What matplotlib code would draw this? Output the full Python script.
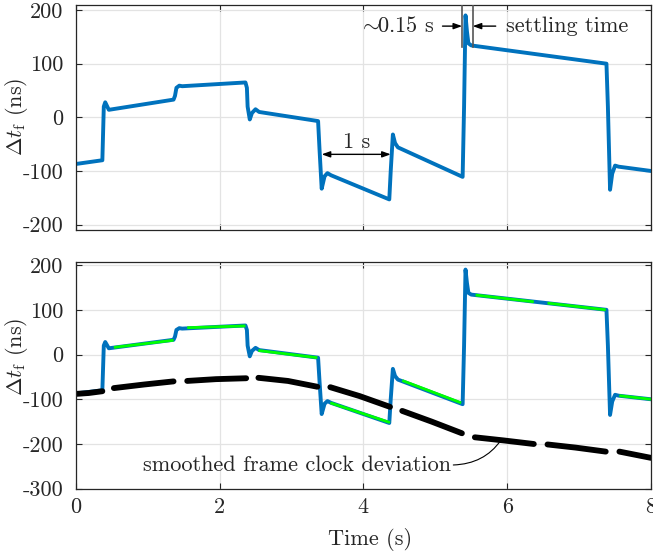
import numpy as np
import matplotlib
matplotlib.use("Agg")
import matplotlib.pyplot as plt

plt.rcParams['font.family'] = 'cmr10'
plt.rcParams['mathtext.fontset'] = 'cm'
plt.rcParams['axes.unicode_minus'] = False
plt.rcParams['axes.formatter.use_mathtext'] = False

# ---- data ----
blue_t = [0.00, 0.37, 0.39, 0.41, 0.46, 1.36, 1.38, 1.40, 1.44, 1.48, 2.36, 2.38, 2.39, 2.42,
          2.45, 2.50, 2.55, 3.37, 3.39, 3.42, 3.46, 3.50, 3.55, 4.36, 4.38, 4.41, 4.44,
          4.48, 5.38, 5.40, 5.42, 5.44, 5.46, 5.50, 7.38, 7.40, 7.43, 7.46, 7.50, 7.55, 8.00]
blue_v = [-87, -80, 20, 28, 14, 33, 40, 55, 59, 58, 65, 55, 20, -4,
          8, 15, 10, -7, -60, -133, -110, -104, -108, -153, -100, -32, -48,
          -56, -111, 20, 190, 160, 138, 134, 100, 20, -135, -105, -90, -92, -100]

green_t0 = [0.53, 1.55, 2.54, 3.54, 4.54, 5.56, 6.56, 7.56]
green_v0 = [16, 60, 9, -108, -58, 133, 115, -92]
green_t1 = [1.36, 2.36, 3.36, 4.37, 5.36, 6.37, 7.37, 8.00]
green_v1 = [32, 64, -7, -152, -108, 118, 100, -100]

black_t = [[0.00, 0.18, 0.37], [0.53, 0.95, 1.36], [1.55, 1.95, 2.37], [2.54, 2.95, 3.36],
           [3.54, 3.95, 4.37], [4.54, 4.95, 5.37], [5.55, 5.95, 6.37], [6.56, 6.95, 7.37],
           [7.56, 7.78, 8.00]]
black_v = [[-88, -86, -82], [-75, -67, -60], [-59, -55, -53], [-52, -59, -72],
           [-73, -93, -117], [-126, -150, -176], [-185, -192, -200], [-201, -208, -217],
           [-217, -224, -231]]

xticks = [0, 2, 4, 6, 8]
yticks_top = [-200, -100, 0, 100, 200]
yticks_bot = [-300, -200, -100, 0, 100, 200]

BLUE = '#0072BD'
GREEN = '#00FF00'
FS = 16
TXT = '#262626'

fig = plt.figure(figsize=(6.53, 5.55), dpi=100)
ax1 = fig.add_axes([0.116, 0.5856, 0.881, 0.406])
ax2 = fig.add_axes([0.116, 0.1194, 0.881, 0.4086])

for ax in (ax1, ax2):
    ax.grid(True, color='#e3e3e3', lw=0.9)
    ax.set_axisbelow(True)
    ax.tick_params(direction='in', length=4.5, width=0.8, top=True, right=True,
                   labelsize=FS, colors=TXT)
    ax.tick_params(axis='y', pad=9)
    ax.tick_params(axis='x', pad=6)
    for s in ax.spines.values():
        s.set_color(TXT)
        s.set_linewidth(0.9)
    ax.set_xlim(0, 8)
    ax.set_xticks(xticks)
    ax.set_ylabel(r'$\Delta t_\mathrm{f}$ (ns)', fontsize=FS, color=TXT)

ax1.yaxis.set_label_coords(-0.079, 0.5)
ax2.yaxis.set_label_coords(-0.079, 0.58)

# top panel
ax1.plot(blue_t, blue_v, color=BLUE, lw=2.8, solid_joinstyle='round')
ax1.set_ylim(-210, 210)
ax1.set_yticks(yticks_top)
ax1.tick_params(labelbottom=False)

# 1 s arrow
ax1.annotate('', xy=(3.42, -69), xytext=(4.38, -69),
             arrowprops=dict(arrowstyle='<|-|>,head_length=0.5,head_width=0.18',
                             color='black', lw=1.0, shrinkA=0, shrinkB=0))
ax1.text(3.91, -46, '1 s', fontsize=FS, ha='center', va='center', color=TXT)

# settling time markers
for tv in (5.373, 5.52):
    ax1.plot([tv, tv], [131, 210], color='#555555', lw=1.2, zorder=3)
ax1.annotate('', xy=(5.373, 170), xytext=(5.10, 170),
             arrowprops=dict(arrowstyle='-|>,head_length=0.5,head_width=0.18',
                             color='black', lw=1.0, shrinkA=0, shrinkB=0))
ax1.annotate('', xy=(5.52, 170), xytext=(5.84, 170),
             arrowprops=dict(arrowstyle='-|>,head_length=0.5,head_width=0.18',
                             color='black', lw=1.0, shrinkA=0, shrinkB=0))
ax1.text(4.98, 170, r'$\!\sim\!\!$0.15 s', fontsize=FS, ha='right', va='center', color=TXT)
ax1.text(5.98, 170, 'settling time', fontsize=FS, ha='left', va='center', color=TXT)

# bottom panel
ax2.plot(blue_t, blue_v, color=BLUE, lw=2.8, solid_joinstyle='round')
for t0, v0, t1, v1 in zip(green_t0, green_v0, green_t1, green_v1):
    ax2.plot([t0, t1], [v0, v1], color=GREEN, lw=2.0, solid_capstyle='butt')
for bt, bv in zip(black_t, black_v):
    ax2.plot(bt, bv, color='black', lw=4.2, solid_capstyle='round')
ax2.set_ylim(-300, 207)
ax2.set_yticks(yticks_bot)
ax2.set_xlabel('Time (s)', fontsize=FS, color=TXT)
ax2.xaxis.set_label_coords(0.5116, -0.173)

ax2.annotate('smoothed frame clock deviation', xy=(5.91, -192), xytext=(3.07, -247),
             fontsize=FS, ha='center', va='center', color=TXT,
             arrowprops=dict(arrowstyle='-', connectionstyle='angle3,angleA=0,angleB=55',
                             relpos=(1, 0.5), shrinkA=0, shrinkB=0, lw=0.8, color='black'))

fig.savefig('out.png', dpi=100)
